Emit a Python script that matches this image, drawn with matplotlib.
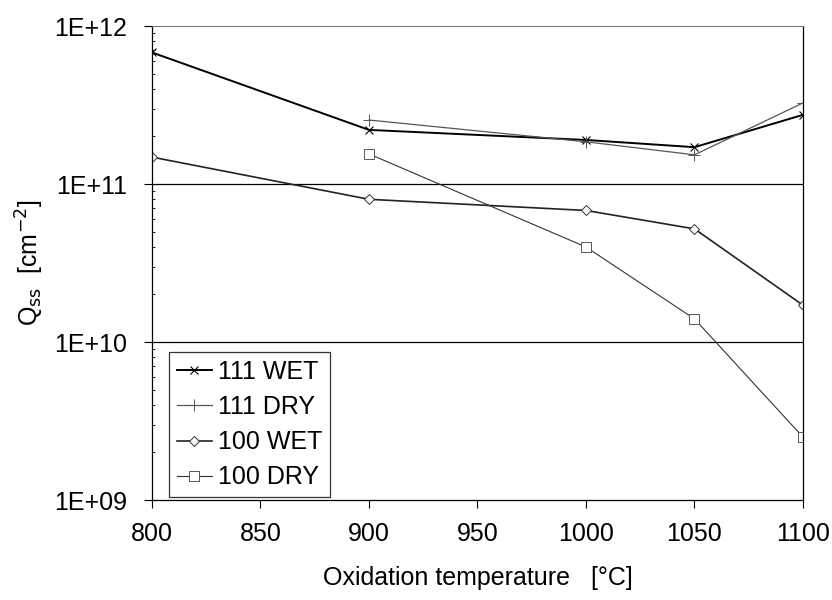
import matplotlib.pyplot as plt
from matplotlib.ticker import NullFormatter

plt.rcParams['font.family'] = ['Liberation Sans', 'DejaVu Sans']

temps = [800, 900, 1000, 1050, 1100]
temps_dry = [900, 1000, 1050, 1100]

wet_111 = [6.8e11, 2.2e11, 1.9e11, 1.71e11, 2.74e11]
dry_111 = [2.54e11, 1.85e11, 1.53e11, 3.26e11]
wet_100 = [1.48e11, 8.0e10, 6.8e10, 5.2e10, 1.71e10]
dry_100 = [1.55e11, 3.99e10, 1.4e10, 2.5e9]

fig = plt.figure(figsize=(8.32, 6.0), dpi=100)
ax = fig.add_axes([152 / 832, 1 - 500 / 600, 651 / 832, 474 / 600])

ax.plot(temps, wet_111, color='black', lw=1.4, marker='x', ms=6, mew=0.8,
        label='111 WET')
ax.plot(temps_dry, dry_111, color='#555555', lw=0.9, marker='+', ms=8, mew=0.7,
        label='111 DRY')
ax.plot(temps, wet_100, color='#222222', lw=1.2, marker='D', ms=5, mew=0.7,
        mfc='white', mec='#333333', label='100 WET')
ax.plot(temps_dry, dry_100, color='#333333', lw=0.8, marker='s', ms=7, mew=0.7,
        mfc='white', mec='#555555', label='100 DRY')

ax.set_yscale('log')
ax.set_ylim(1e9, 1e12)
ax.set_xlim(800, 1100)
ax.set_xticks([800, 850, 900, 950, 1000, 1050, 1100])
ax.set_yticks([1e9, 1e10, 1e11, 1e12])
ax.set_yticklabels(['1E+09', '1E+10', '1E+11', '1E+12'])
ax.yaxis.set_minor_formatter(NullFormatter())
ax.tick_params(axis='y', which='minor', direction='in', length=2, width=0.6)
ax.tick_params(axis='both', which='major', direction='out', length=6, width=0.8,
               labelsize=18)
ax.tick_params(axis='y', which='major', pad=12)
ax.tick_params(axis='x', which='major', pad=10)

for v in [1e10, 1e11]:
    ax.axhline(v, color='black', lw=0.9, zorder=0)

for s in ['left', 'bottom', 'right']:
    ax.spines[s].set_color('black')
    ax.spines[s].set_linewidth(0.9)
ax.spines['top'].set_color('#777777')
ax.spines['top'].set_linewidth(0.8)

ax.set_xlabel('Oxidation temperature   [°C]', fontsize=18, labelpad=14)
ax.set_ylabel('Q$_{\\rm ss}$  [cm$^{-2}$]', fontsize=18, labelpad=6)

leg = ax.legend(loc='lower left', bbox_to_anchor=(17 / 651, 3 / 474),
                fontsize=18, frameon=True, fancybox=False, handlelength=1.4,
                handletextpad=0.25, borderpad=0.3, labelspacing=0.45,
                borderaxespad=0)
leg.get_frame().set_edgecolor('black')
leg.get_frame().set_linewidth(0.9)

fig.savefig('out.png', dpi=100)
